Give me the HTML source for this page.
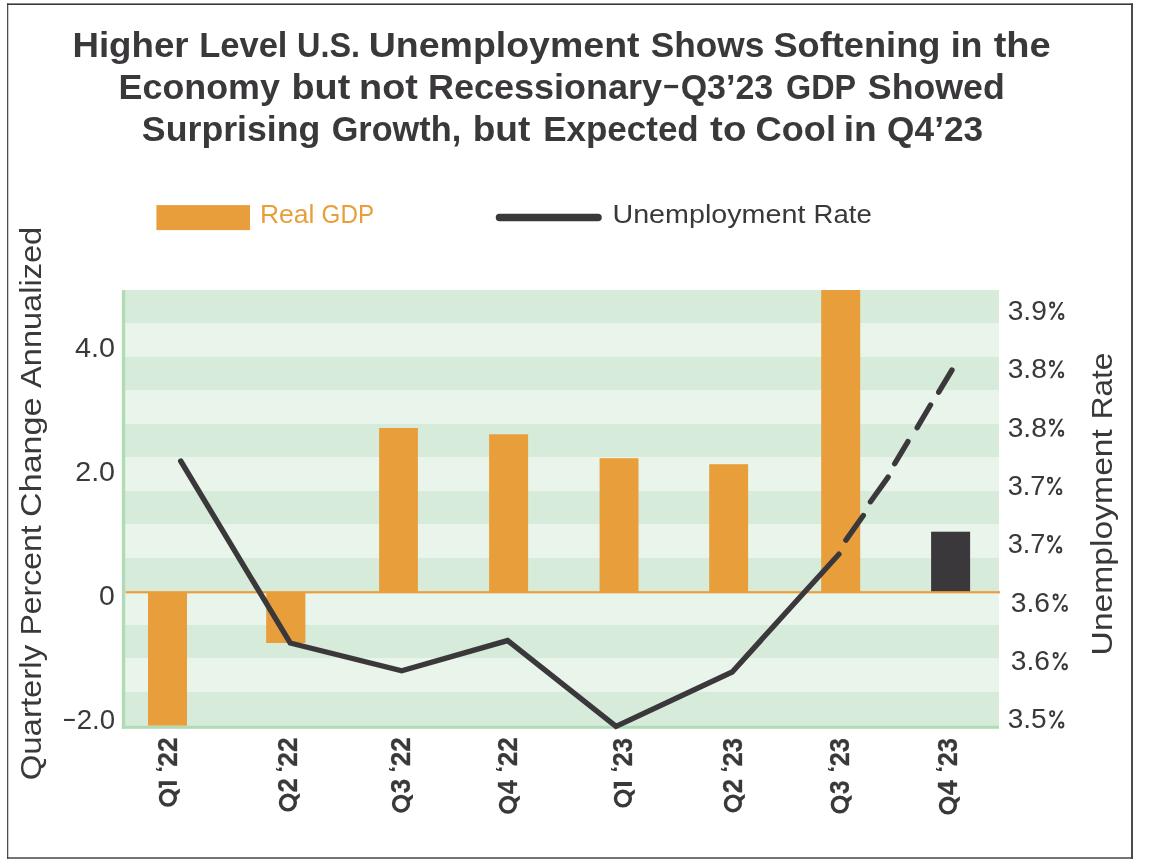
<!DOCTYPE html>
<html>
<head>
<meta charset="utf-8">
<title>Higher Level U.S. Unemployment vs Real GDP</title>
<style>
  html, body { margin: 0; padding: 0; background: #ffffff; }
  body { width: 1149px; height: 863px; overflow: hidden; position: relative; font-family: "Liberation Sans", sans-serif; }
  svg { position: absolute; left: 0; top: 0; display: block; will-change: transform; }
  text { font-family: "Liberation Sans", sans-serif; }
</style>
</head>
<body>
<svg width="1149" height="863" viewBox="0 0 1149 863">
  <rect x="0" y="0" width="1149" height="863" fill="#ffffff"/>

  <!-- outer frame -->
  <rect x="7.1" y="3.4" width="1125.8" height="1.6" fill="#3b383b"/>
  <rect x="7.1" y="857.3" width="1125.8" height="1.4" fill="#3b383b"/>
  <rect x="7.1" y="3.4" width="1.15" height="855.3" fill="#3b383b"/>
  <rect x="1131.1" y="3.4" width="1.8" height="855.3" fill="#3b383b"/>

  <!-- title -->
  <rect x="664.3" y="84.9" width="13.8" height="3.3" fill="#3b383b"/>

  <!-- legend -->
  <rect x="156.4" y="205.1" width="93.6" height="25" fill="#e89f3b"/>
  <line x1="499.5" y1="217.4" x2="598" y2="217.4" stroke="#3b383b" stroke-width="7.5" stroke-linecap="round"/>

  <!-- plot bands -->
  <g id="bands">
    <rect x="122" y="290" width="877" height="436" fill="#e9f4ea"/>
    <rect x="122" y="290" width="877" height="33" fill="#d6ebd9"/>
    <rect x="122" y="357" width="877" height="33" fill="#d6ebd9"/>
    <rect x="122" y="424" width="877" height="33" fill="#d6ebd9"/>
    <rect x="122" y="491" width="877" height="33" fill="#d6ebd9"/>
    <rect x="122" y="558" width="877" height="33" fill="#d6ebd9"/>
    <rect x="122" y="625" width="877" height="33" fill="#d6ebd9"/>
    <rect x="122" y="692" width="877" height="34" fill="#d6ebd9"/>
  </g>
  <!-- green axes -->
  <rect x="121.85" y="290" width="3.35" height="438.8" fill="#b1dbb7"/>
  <rect x="121.85" y="725.8" width="877.15" height="3" fill="#b1dbb7"/>

  <!-- bars -->
  <g fill="#e89f3b">
    <rect x="148" y="592" width="39" height="133.6"/>
    <rect x="266.2" y="592" width="39.2" height="51"/>
    <rect x="379.1" y="428" width="38.8" height="164"/>
    <rect x="489.1" y="434.3" width="39" height="157.7"/>
    <rect x="599.6" y="458.2" width="38.9" height="133.8"/>
    <rect x="709.2" y="464.2" width="38.9" height="127.8"/>
    <rect x="821.2" y="290" width="39" height="302"/>
  </g>
  <rect x="931.1" y="531.7" width="39" height="60.3" fill="#3b383b"/>
  <!-- zero line -->
  <rect x="125.6" y="591.15" width="874.5" height="2.2" fill="#e89f3b"/>

  <!-- unemployment line -->
  <polyline points="180.7,461 290.2,643 401.7,670.8 507.6,640.6 616,726.4 732.2,672 838.9,554.2" fill="none" stroke="#3b383b" stroke-width="5.4" stroke-linecap="round" stroke-linejoin="miter"/>
  <g stroke="#3b383b" stroke-width="5.4" stroke-linecap="round">
    <line x1="845.9" y1="540.1" x2="863.3" y2="515.5"/>
    <line x1="870.5" y1="501.7" x2="888.1" y2="477.1"/>
    <line x1="894.7" y1="463.7" x2="907.9" y2="441.6"/>
    <line x1="917.2" y1="427.6" x2="930.5" y2="405"/>
    <line x1="938.7" y1="392.2" x2="952" y2="370"/>
  </g>

  <!-- left axis labels -->
  <!-- right axis labels -->

  <!-- axis titles -->

  <!-- x labels -->
  <text transform="translate(72.40,56.70) scale(1.0728,1)" font-size="34.2" font-weight="bold" fill="#3b383b">Higher</text>
  <text transform="translate(199.14,56.70) scale(1.0101,1)" font-size="34.2" font-weight="bold" fill="#3b383b">Level</text>
  <text transform="translate(297.01,56.70) scale(0.9468,1)" font-size="34.2" font-weight="bold" fill="#3b383b">U.S.</text>
  <text transform="translate(368.71,56.70) scale(1.0970,1)" font-size="34.2" font-weight="bold" fill="#3b383b">Unemployment</text>
  <text transform="translate(650.67,56.70) scale(1.0310,1)" font-size="34.2" font-weight="bold" fill="#3b383b">Shows</text>
  <text transform="translate(773.44,56.70) scale(1.0594,1)" font-size="34.2" font-weight="bold" fill="#3b383b">Softening</text>
  <text transform="translate(950.65,56.70) scale(1.0500,1)" font-size="34.2" font-weight="bold" fill="#3b383b">in</text>
  <text transform="translate(993.63,56.70) scale(1.1114,1)" font-size="34.2" font-weight="bold" fill="#3b383b">the</text>
  <text transform="translate(118.55,98.70) scale(1.0487,1)" font-size="34.2" font-weight="bold" fill="#3b383b">Economy</text>
  <text transform="translate(291.52,98.70) scale(1.1046,1)" font-size="34.2" font-weight="bold" fill="#3b383b">but</text>
  <text transform="translate(359.12,98.70) scale(1.1066,1)" font-size="34.2" font-weight="bold" fill="#3b383b">not</text>
  <text transform="translate(427.94,98.70) scale(1.0534,1)" font-size="34.2" font-weight="bold" fill="#3b383b">Recessionary</text>
  <text transform="translate(680.67,98.70) scale(0.9938,1)" font-size="34.2" font-weight="bold" fill="#3b383b">Q3’23</text>
  <text transform="translate(786.04,98.70) scale(0.9460,1)" font-size="34.2" font-weight="bold" fill="#3b383b">GDP</text>
  <text transform="translate(867.86,98.70) scale(1.0441,1)" font-size="34.2" font-weight="bold" fill="#3b383b">Showed</text>
  <text transform="translate(141.86,140.70) scale(1.0443,1)" font-size="34.2" font-weight="bold" fill="#3b383b">Surprising</text>
  <text transform="translate(331.66,140.70) scale(1.0027,1)" font-size="34.2" font-weight="bold" fill="#3b383b">Growth,</text>
  <text transform="translate(472.67,140.70) scale(1.0848,1)" font-size="34.2" font-weight="bold" fill="#3b383b">but</text>
  <text transform="translate(543.21,140.70) scale(1.0229,1)" font-size="34.2" font-weight="bold" fill="#3b383b">Expected</text>
  <text transform="translate(710.12,140.70) scale(1.1250,1)" font-size="34.2" font-weight="bold" fill="#3b383b">to</text>
  <text transform="translate(755.49,140.70) scale(1.0597,1)" font-size="34.2" font-weight="bold" fill="#3b383b">Cool</text>
  <text transform="translate(843.67,140.70) scale(1.0846,1)" font-size="34.2" font-weight="bold" fill="#3b383b">in</text>
  <text transform="translate(887.12,140.70) scale(1.0312,1)" font-size="34.2" font-weight="bold" fill="#3b383b">Q4’23</text>
  <text transform="translate(259.89,222.70) scale(1.0562,1)" font-size="25.1" fill="#e89f3b">Real</text>
  <text transform="translate(321.61,222.70) scale(0.9639,1)" font-size="25.1" fill="#e89f3b">GDP</text>
  <text transform="translate(612.41,222.70) scale(1.1436,1)" font-size="25.1" fill="#3b383b">Unemployment</text>
  <text transform="translate(813.61,222.70) scale(1.0960,1)" font-size="25.1" fill="#3b383b">Rate</text>
  <text transform="translate(75.09,356.90) scale(1.0654,1)" font-size="27.0" fill="#3b383b">4.0</text>
  <text transform="translate(75.18,480.85) scale(1.0629,1)" font-size="27.0" fill="#3b383b">2.0</text>
  <text transform="translate(99.05,604.80) scale(1.0538,1)" font-size="27.0" fill="#3b383b">0</text>
  <text transform="translate(76.64,728.75) scale(1.0229,1)" font-size="27.0" fill="#3b383b">2.0</text>
  <text transform="translate(1007.66,319.80) scale(1.0443,1)" font-size="27.0" fill="#3b383b">3.9</text>
  <text transform="translate(1007.66,378.20) scale(1.0443,1)" font-size="27.0" fill="#3b383b">3.8</text>
  <text transform="translate(1007.66,436.60) scale(1.0443,1)" font-size="27.0" fill="#3b383b">3.8</text>
  <text transform="translate(1007.69,495.00) scale(1.0057,1)" font-size="27.0" fill="#3b383b">3.7</text>
  <text transform="translate(1007.69,553.30) scale(1.0057,1)" font-size="27.0" fill="#3b383b">3.7</text>
  <text transform="translate(1010.76,611.70) scale(1.0443,1)" font-size="27.0" fill="#3b383b">3.6</text>
  <text transform="translate(1010.76,670.10) scale(1.0443,1)" font-size="27.0" fill="#3b383b">3.6</text>
  <text transform="translate(1007.66,728.40) scale(1.0387,1)" font-size="27.0" fill="#3b383b">3.5</text>
  <text transform="translate(40.90,780.37) rotate(-90) scale(1.0989,1)" font-size="30.0" fill="#3b383b">Quarterly</text>
  <text transform="translate(40.90,635.49) rotate(-90) scale(1.0663,1)" font-size="30.0" fill="#3b383b">Percent</text>
  <text transform="translate(40.90,516.89) rotate(-90) scale(1.1353,1)" font-size="30.0" fill="#3b383b">Change</text>
  <text transform="translate(40.90,387.90) rotate(-90) scale(1.0852,1)" font-size="30.0" fill="#3b383b">Annualized</text>
  <text transform="translate(1112.00,655.42) rotate(-90) scale(1.1222,1)" font-size="30.0" fill="#3b383b">Unemployment</text>
  <text transform="translate(1112.00,419.36) rotate(-90) scale(1.0525,1)" font-size="30.0" fill="#3b383b">Rate</text>
  <text transform="translate(171.10,772.54) rotate(-90) scale(1.0800,1)" font-size="21.8" font-weight="bold" fill="#3b383b">‘</text>
  <text transform="translate(177.00,766.64) rotate(-90) scale(0.9552,1)" font-size="27.6" font-weight="bold" stroke="#3b383b" stroke-width="0.3" fill="#3b383b">22</text>
  <text transform="translate(297.00,792.42) rotate(-90) scale(0.9366,1)" font-size="27.6" font-weight="bold" stroke="#3b383b" stroke-width="0.3" fill="#3b383b">2</text>
  <text transform="translate(291.10,772.54) rotate(-90) scale(1.0800,1)" font-size="21.8" font-weight="bold" fill="#3b383b">‘</text>
  <text transform="translate(297.00,766.64) rotate(-90) scale(0.9552,1)" font-size="27.6" font-weight="bold" stroke="#3b383b" stroke-width="0.3" fill="#3b383b">22</text>
  <text transform="translate(410.10,793.21) rotate(-90) scale(0.9357,1)" font-size="27.6" font-weight="bold" stroke="#3b383b" stroke-width="0.3" fill="#3b383b">3</text>
  <text transform="translate(404.20,772.54) rotate(-90) scale(1.0800,1)" font-size="21.8" font-weight="bold" fill="#3b383b">‘</text>
  <text transform="translate(410.10,766.33) rotate(-90) scale(0.9448,1)" font-size="27.6" font-weight="bold" stroke="#3b383b" stroke-width="0.3" fill="#3b383b">22</text>
  <text transform="translate(517.00,794.31) rotate(-90) scale(0.9267,1)" font-size="27.6" font-weight="bold" stroke="#3b383b" stroke-width="0.3" fill="#3b383b">4</text>
  <text transform="translate(511.10,772.54) rotate(-90) scale(1.0800,1)" font-size="21.8" font-weight="bold" fill="#3b383b">‘</text>
  <text transform="translate(517.00,766.33) rotate(-90) scale(0.9448,1)" font-size="27.6" font-weight="bold" stroke="#3b383b" stroke-width="0.3" fill="#3b383b">22</text>
  <text transform="translate(626.10,772.54) rotate(-90) scale(1.0800,1)" font-size="21.8" font-weight="bold" fill="#3b383b">‘</text>
  <text transform="translate(632.00,766.62) rotate(-90) scale(0.9310,1)" font-size="27.6" font-weight="bold" stroke="#3b383b" stroke-width="0.3" fill="#3b383b">23</text>
  <text transform="translate(742.00,793.22) rotate(-90) scale(0.9366,1)" font-size="27.6" font-weight="bold" stroke="#3b383b" stroke-width="0.3" fill="#3b383b">2</text>
  <text transform="translate(736.10,772.54) rotate(-90) scale(1.0800,1)" font-size="21.8" font-weight="bold" fill="#3b383b">‘</text>
  <text transform="translate(742.00,766.62) rotate(-90) scale(0.9310,1)" font-size="27.6" font-weight="bold" stroke="#3b383b" stroke-width="0.3" fill="#3b383b">23</text>
  <text transform="translate(848.90,793.99) rotate(-90) scale(0.8786,1)" font-size="27.6" font-weight="bold" stroke="#3b383b" stroke-width="0.3" fill="#3b383b">3</text>
  <text transform="translate(843.00,772.54) rotate(-90) scale(1.0800,1)" font-size="21.8" font-weight="bold" fill="#3b383b">‘</text>
  <text transform="translate(848.90,766.31) rotate(-90) scale(0.9207,1)" font-size="27.6" font-weight="bold" stroke="#3b383b" stroke-width="0.3" fill="#3b383b">23</text>
  <text transform="translate(957.00,795.13) rotate(-90) scale(0.9800,1)" font-size="27.6" font-weight="bold" stroke="#3b383b" stroke-width="0.3" fill="#3b383b">4</text>
  <text transform="translate(951.10,772.54) rotate(-90) scale(1.0800,1)" font-size="21.8" font-weight="bold" fill="#3b383b">‘</text>
  <text transform="translate(957.00,766.31) rotate(-90) scale(0.9207,1)" font-size="27.6" font-weight="bold" stroke="#3b383b" stroke-width="0.3" fill="#3b383b">23</text>
  <rect x="64" y="718.9" width="10.8" height="2.1" fill="#3b383b"/>
  <ellipse cx="1052.15" cy="305.00" rx="2.10" ry="2.45" fill="none" stroke="#3b383b" stroke-width="1.9"/>
  <ellipse cx="1061.20" cy="316.45" rx="2.25" ry="2.50" fill="none" stroke="#3b383b" stroke-width="1.9"/>
  <path d="M1061.10 302.00 L1063.30 302.00 L1052.30 319.80 L1050.10 319.80 Z" fill="#3b383b"/>
  <ellipse cx="1051.95" cy="363.40" rx="2.10" ry="2.45" fill="none" stroke="#3b383b" stroke-width="1.9"/>
  <ellipse cx="1061.00" cy="374.85" rx="2.25" ry="2.50" fill="none" stroke="#3b383b" stroke-width="1.9"/>
  <path d="M1060.90 360.40 L1063.10 360.40 L1052.10 378.20 L1049.90 378.20 Z" fill="#3b383b"/>
  <ellipse cx="1051.95" cy="421.80" rx="2.10" ry="2.45" fill="none" stroke="#3b383b" stroke-width="1.9"/>
  <ellipse cx="1061.00" cy="433.25" rx="2.25" ry="2.50" fill="none" stroke="#3b383b" stroke-width="1.9"/>
  <path d="M1060.90 418.80 L1063.10 418.80 L1052.10 436.60 L1049.90 436.60 Z" fill="#3b383b"/>
  <ellipse cx="1050.05" cy="480.20" rx="2.10" ry="2.45" fill="none" stroke="#3b383b" stroke-width="1.9"/>
  <ellipse cx="1059.10" cy="491.65" rx="2.25" ry="2.50" fill="none" stroke="#3b383b" stroke-width="1.9"/>
  <path d="M1059.00 477.20 L1061.20 477.20 L1050.20 495.00 L1048.00 495.00 Z" fill="#3b383b"/>
  <ellipse cx="1050.05" cy="538.50" rx="2.10" ry="2.45" fill="none" stroke="#3b383b" stroke-width="1.9"/>
  <ellipse cx="1059.10" cy="549.95" rx="2.25" ry="2.50" fill="none" stroke="#3b383b" stroke-width="1.9"/>
  <path d="M1059.00 535.50 L1061.20 535.50 L1050.20 553.30 L1048.00 553.30 Z" fill="#3b383b"/>
  <ellipse cx="1055.65" cy="596.90" rx="2.10" ry="2.45" fill="none" stroke="#3b383b" stroke-width="1.9"/>
  <ellipse cx="1064.70" cy="608.35" rx="2.25" ry="2.50" fill="none" stroke="#3b383b" stroke-width="1.9"/>
  <path d="M1064.60 593.90 L1066.80 593.90 L1055.80 611.70 L1053.60 611.70 Z" fill="#3b383b"/>
  <ellipse cx="1055.65" cy="655.30" rx="2.10" ry="2.45" fill="none" stroke="#3b383b" stroke-width="1.9"/>
  <ellipse cx="1064.70" cy="666.75" rx="2.25" ry="2.50" fill="none" stroke="#3b383b" stroke-width="1.9"/>
  <path d="M1064.60 652.30 L1066.80 652.30 L1055.80 670.10 L1053.60 670.10 Z" fill="#3b383b"/>
  <ellipse cx="1052.15" cy="713.60" rx="2.10" ry="2.45" fill="none" stroke="#3b383b" stroke-width="1.9"/>
  <ellipse cx="1061.20" cy="725.05" rx="2.25" ry="2.50" fill="none" stroke="#3b383b" stroke-width="1.9"/>
  <path d="M1061.10 710.60 L1063.30 710.60 L1052.30 728.40 L1050.10 728.40 Z" fill="#3b383b"/>
  <ellipse cx="167.90" cy="797.80" rx="7.43" ry="7.28" fill="none" stroke="#3b383b" stroke-width="3.45"/>
  <path d="M172.40 793.60 L175.40 796.20 L179.90 792.20 L179.90 788.40 Z" fill="#3b383b"/>
  <path d="M176.90 781.20 H158.70 V787.70 H161.90 V785.10 H176.90 Z" fill="#3b383b"/>
  <ellipse cx="287.90" cy="802.60" rx="7.43" ry="7.28" fill="none" stroke="#3b383b" stroke-width="3.45"/>
  <path d="M292.40 798.40 L295.40 801.00 L299.90 797.00 L299.90 793.20 Z" fill="#3b383b"/>
  <ellipse cx="401.00" cy="803.70" rx="7.43" ry="7.28" fill="none" stroke="#3b383b" stroke-width="3.45"/>
  <path d="M405.50 799.50 L408.50 802.10 L413.00 798.10 L413.00 794.30 Z" fill="#3b383b"/>
  <ellipse cx="507.90" cy="804.80" rx="7.43" ry="7.28" fill="none" stroke="#3b383b" stroke-width="3.45"/>
  <path d="M512.40 800.60 L515.40 803.20 L519.90 799.20 L519.90 795.40 Z" fill="#3b383b"/>
  <ellipse cx="622.90" cy="798.60" rx="7.43" ry="7.28" fill="none" stroke="#3b383b" stroke-width="3.45"/>
  <path d="M627.40 794.40 L630.40 797.00 L634.90 793.00 L634.90 789.20 Z" fill="#3b383b"/>
  <path d="M631.90 782.00 H613.70 V788.50 H616.90 V785.90 H631.90 Z" fill="#3b383b"/>
  <ellipse cx="732.90" cy="803.40" rx="7.43" ry="7.28" fill="none" stroke="#3b383b" stroke-width="3.45"/>
  <path d="M737.40 799.20 L740.40 801.80 L744.90 797.80 L744.90 794.00 Z" fill="#3b383b"/>
  <ellipse cx="839.80" cy="804.50" rx="7.43" ry="7.28" fill="none" stroke="#3b383b" stroke-width="3.45"/>
  <path d="M844.30 800.30 L847.30 802.90 L851.80 798.90 L851.80 795.10 Z" fill="#3b383b"/>
  <ellipse cx="947.90" cy="805.60" rx="7.43" ry="7.28" fill="none" stroke="#3b383b" stroke-width="3.45"/>
  <path d="M952.40 801.40 L955.40 804.00 L959.90 800.00 L959.90 796.20 Z" fill="#3b383b"/>
</svg>
</body>
</html>
